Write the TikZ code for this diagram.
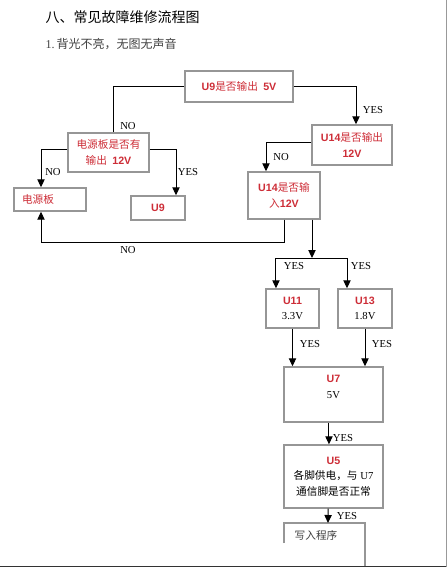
\documentclass[tikz,border=0pt]{standalone}
\usepackage{fontspec}
\setmainfont{Liberation Serif}
\setsansfont{Liberation Sans}
\newfontfamily\cjk{Noto Sans CJK SC}
\usetikzlibrary{arrows.meta}
\definecolor{boxred}{RGB}{205,45,55}
\definecolor{boxgray}{RGB}{150,150,150}
\newcommand\hi[1]{{\sffamily\bfseries #1}}

\begin{document}
\begin{tikzpicture}[x=0.75pt, y=-0.75pt,
    box/.style={draw=boxgray, line width=1.1pt, inner sep=0pt, align=center, font=\fontsize{8}{11.6}\selectfont},
    link/.style={line width=0.75pt, -{Triangle[length=6pt,width=5.5pt]}},
    plain/.style={line width=0.75pt},
    lbl/.style={font=\fontsize{8}{9}\selectfont, inner sep=0pt}]
      \useasboundingbox (0,0) rectangle (448,568);

      \node[anchor=west, font=\fontsize{10.5}{12}\selectfont] (title) at (41,17) {\cjk 八、常见故障维修流程图};
      \node[anchor=west, font=\fontsize{9}{10}\selectfont, text=black!75] (sub) at (41,44) {1.\,{\cjk 背光不亮，无图无声音}};

      \node[box, text=boxred, minimum width=81pt, minimum height=23.25pt] (q9) at (239,86.5) {\hi{U9}{\cjk 是否输出}\hspace{0.5em}\hi{5V}};
      \node[box, text=boxred, minimum width=60.75pt, minimum height=29.25pt] (qpow) at (108.5,152.5) {{\cjk 电源板是否有}\\{\cjk 输出}\hspace{0.5em}\hi{12V}};
      \node[box, text=boxred, minimum width=60pt, minimum height=30pt] (qu14o) at (352,145) {\hi{U14}{\cjk 是否输出}\\\hi{12V}};
      \node[box, text=boxred, inner xsep=6pt, text width=42pt, align=left, minimum height=17.25pt] (pow) at (50,199.5) {\cjk 电源板};
      \node[box, text=boxred, minimum width=40.5pt, minimum height=18pt] (u9) at (158,208) {\hi{U9}};
      \node[box, text=boxred, minimum width=54pt, minimum height=35.25pt] (qu14i) at (284,195.5) {\hi{U14}{\cjk 是否输}\\{\cjk 入}\hi{12V}};

      \node[box, minimum width=39.75pt, minimum height=29.25pt] (u11) at (292.5,308.5) {\textcolor{boxred}{\hi{U11}}\\3.3V};
      \node[box, minimum width=40.5pt, minimum height=29.25pt] (u13) at (365,308.5) {\textcolor{boxred}{\hi{U13}}\\1.8V};
      \node[box, minimum width=74.25pt, minimum height=41.25pt] (u7) at (333.5,394.5) {\textcolor{boxred}{\hi{U7}}\\5V\\\mbox{}};
      \node[box, minimum width=74.25pt, minimum height=47.25pt] (u5) at (333.5,476.5) {\textcolor{boxred}{\hi{U5}}\\{\cjk 各脚供电，与}\ U7\\{\cjk 通信脚是否正常}};

      % last box runs off the page
      \draw[draw=boxgray, line width=1.1pt] (284,543) -- (284,523) -- (365,523) -- (365,566);
      \node[anchor=west, font=\fontsize{8}{9}\selectfont, text=black!75] (wr) at (290,535) {\cjk 写入程序};
      \coordinate (wrtop) at (328,523);
      \coordinate (split) at (312,258);

      \draw[plain] (q9.west) -| ([xshift=3.4pt]qpow.north);
      \draw[link] (q9.east) -| ([xshift=3pt]qu14o.north);
      \draw[link] ([yshift=1.9pt]qpow.west) -| ([xshift=-6.75pt]pow.north);
      \draw[link] ([yshift=1.9pt]qpow.east) -| ([xshift=13.5pt]u9.north);
      \draw[link] ([yshift=2.25pt]qu14o.west) -| ([xshift=-13.5pt]qu14i.north);
      \draw[link] (qu14i.south) -- ++(0,23) -| ([xshift=-6.75pt]pow.south);
      \draw[link] (qu14i.south -| split) -- (split);
      \draw[link] (split) -| ([xshift=-12.4pt]u11.north);
      \draw[link] (split) -| ([xshift=-13.5pt]u13.north);
      \draw[link] (u11.south) -- (u11.south |- u7.north);
      \draw[link] (u13.south) -- (u13.south |- u7.north);
      \draw[link] ([xshift=-3.4pt]u7.south) -- ([xshift=-3.4pt]u5.north);
      \draw[link] ([xshift=-4pt]u5.south) -- (wrtop);

      \node[lbl] (no1) at (128,126) {NO};
      \node[lbl] (yes1) at (373,110) {YES};
      \node[lbl] (no2) at (53,172) {NO};
      \node[lbl] (yes2) at (188,172) {YES};
      \node[lbl] (no3) at (281,157) {NO};
      \node[lbl] (no4) at (128,250) {NO};
      \node[lbl] (yes3) at (294,266) {YES};
      \node[lbl] (yes4) at (361,266) {YES};
      \node[lbl] (yes5) at (310,344) {YES};
      \node[lbl] (yes6) at (382,344) {YES};
      \node[lbl] (yes7) at (343,438) {YES};
      \node[lbl] (yes8) at (347,516) {YES};

      % page edge
      \draw[black!80, line width=1.4pt] (0,566.5) -- (446.5,566.5);
      \draw[black!40, line width=0.6pt] (446.5,566.5) -- (446.5,0);
    \end{tikzpicture}
\end{document}
